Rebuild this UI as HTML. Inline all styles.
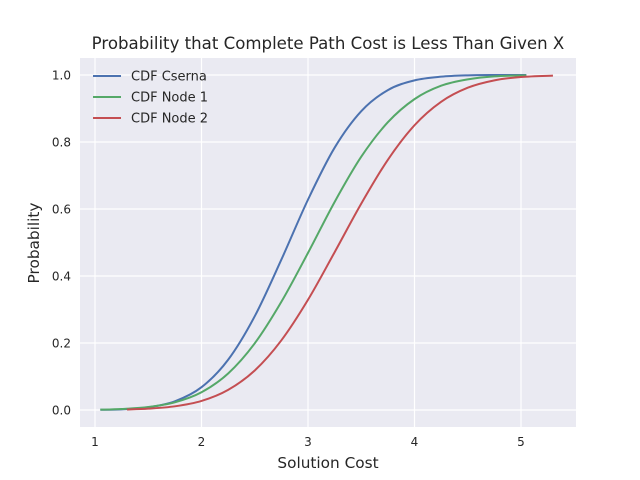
<!DOCTYPE html>
<html><head><meta charset="utf-8"><style>
body{margin:0;background:#fff;}
svg{display:block;font-family:"DejaVu Sans","Liberation Sans",sans-serif;}
</style></head><body>
<svg id="chart" width="640" height="480">
<rect x="80" y="58" width="496" height="369" fill="#EAEAF2"/>
<g id="grid"></g>
<g id="ticks"></g>
<g id="series"></g>
<text x="328" y="49" text-anchor="middle" font-size="16.6" fill="#262626">Probability that Complete Path Cost is Less Than Given X</text>
<text x="328" y="468" text-anchor="middle" font-size="15.3" fill="#262626">Solution Cost</text>
<text x="39" y="243" text-anchor="middle" font-size="15.3" fill="#262626" transform="rotate(-90 39 243)">Probability</text>
<g id="legend"></g>
</svg>
<script>
const xTicks=[1,2,3,4,5];
const yTicks=[0.0,0.2,0.4,0.6,0.8,1.0];
const seriesNames=["CDF Cserna","CDF Node 1","CDF Node 2"];
const csernaX=[1.05,1.25,1.5,1.75,2,2.25,2.5,2.75,3,3.25,3.5,3.75,4,4.25,4.5,4.75,5.05];
const csernaY=[0.0006,0.002,0.008,0.026,0.068,0.150,0.280,0.449,0.628,0.783,0.892,0.955,0.984,0.995,0.999,1.0,1.0];
const node1X=[1.05,1.25,1.5,1.75,2,2.25,2.5,2.75,3,3.25,3.5,3.75,4,4.25,4.5,4.75,5.05];
const node1Y=[0.001,0.003,0.009,0.023,0.053,0.109,0.199,0.323,0.469,0.621,0.756,0.859,0.928,0.968,0.987,0.996,0.999];
const node2X=[1.3,1.5,1.75,2,2.25,2.5,2.75,3,3.25,3.5,3.75,4,4.25,4.5,4.75,5,5.3];
const node2Y=[0.0015,0.004,0.011,0.027,0.060,0.118,0.208,0.329,0.471,0.616,0.747,0.850,0.920,0.962,0.984,0.994,0.998];
const colors=["#4C72B0","#55A868","#C44E52"];
const NS="http://www.w3.org/2000/svg";
const sx=v=>95+(v-1)*106.5;
const sy=v=>410-v*335;
function mk(tag,attrs,parent){const e=document.createElementNS(NS,tag);for(const k in attrs)e.setAttribute(k,attrs[k]);parent.appendChild(e);return e;}
const grid=document.getElementById('grid'),ticks=document.getElementById('ticks');
xTicks.forEach(t=>{
 const l=mk('line',{x1:sx(t),x2:sx(t),y1:58,y2:427,stroke:'#fff','stroke-width':1.2},grid);
 
 
 const tx=mk('text',{x:sx(t),y:446,'text-anchor':'middle','font-size':12,fill:'#262626'},ticks);
 tx.textContent=t;
 
 
});
yTicks.forEach(t=>{
 const l=mk('line',{x1:80,x2:576,y1:sy(t),y2:sy(t),stroke:'#fff','stroke-width':1.2},grid);
 
 
 const tx=mk('text',{x:71,y:sy(t)+4.5,'text-anchor':'end','font-size':12,fill:'#262626'},ticks);
 tx.textContent=t.toFixed(1);
 
 
});
function pathD(xs,ys){
 const p=xs.map((x,i)=>[sx(x),sy(ys[i])]);
 let d='M'+p[0][0]+','+p[0][1];
 for(let i=0;i<p.length-1;i++){
  const p0=p[Math.max(i-1,0)],p1=p[i],p2=p[i+1],p3=p[Math.min(i+2,p.length-1)];
  const c1=[p1[0]+(p2[0]-p0[0])/6,p1[1]+(p2[1]-p0[1])/6];
  const c2=[p2[0]-(p3[0]-p1[0])/6,p2[1]-(p3[1]-p1[1])/6];
  d+=' C'+c1+' '+c2+' '+p2;
 }
 return d;
}
const ser=document.getElementById('series');
const data=[[csernaX,csernaY],[node1X,node1Y],[node2X,node2Y]];
const names=['line-cdf-cserna','line-cdf-node-1','line-cdf-node-2'];
data.forEach((s,i)=>{
 const p=mk('path',{d:pathD(s[0],s[1]),fill:'none',stroke:colors[i],'stroke-width':2},ser);
 
 
});
const lg=document.getElementById('legend');


seriesNames.forEach((n,i)=>{
 const y=76+i*21;
 const l=mk('line',{x1:93,x2:121,y1:y,y2:y,stroke:colors[i],'stroke-width':2},lg);
 
 
 const t=mk('text',{x:131,y:y+4.5,'font-size':13,fill:'#262626'},lg);
 t.textContent=n;
 
 
});
</script>
</body></html>
